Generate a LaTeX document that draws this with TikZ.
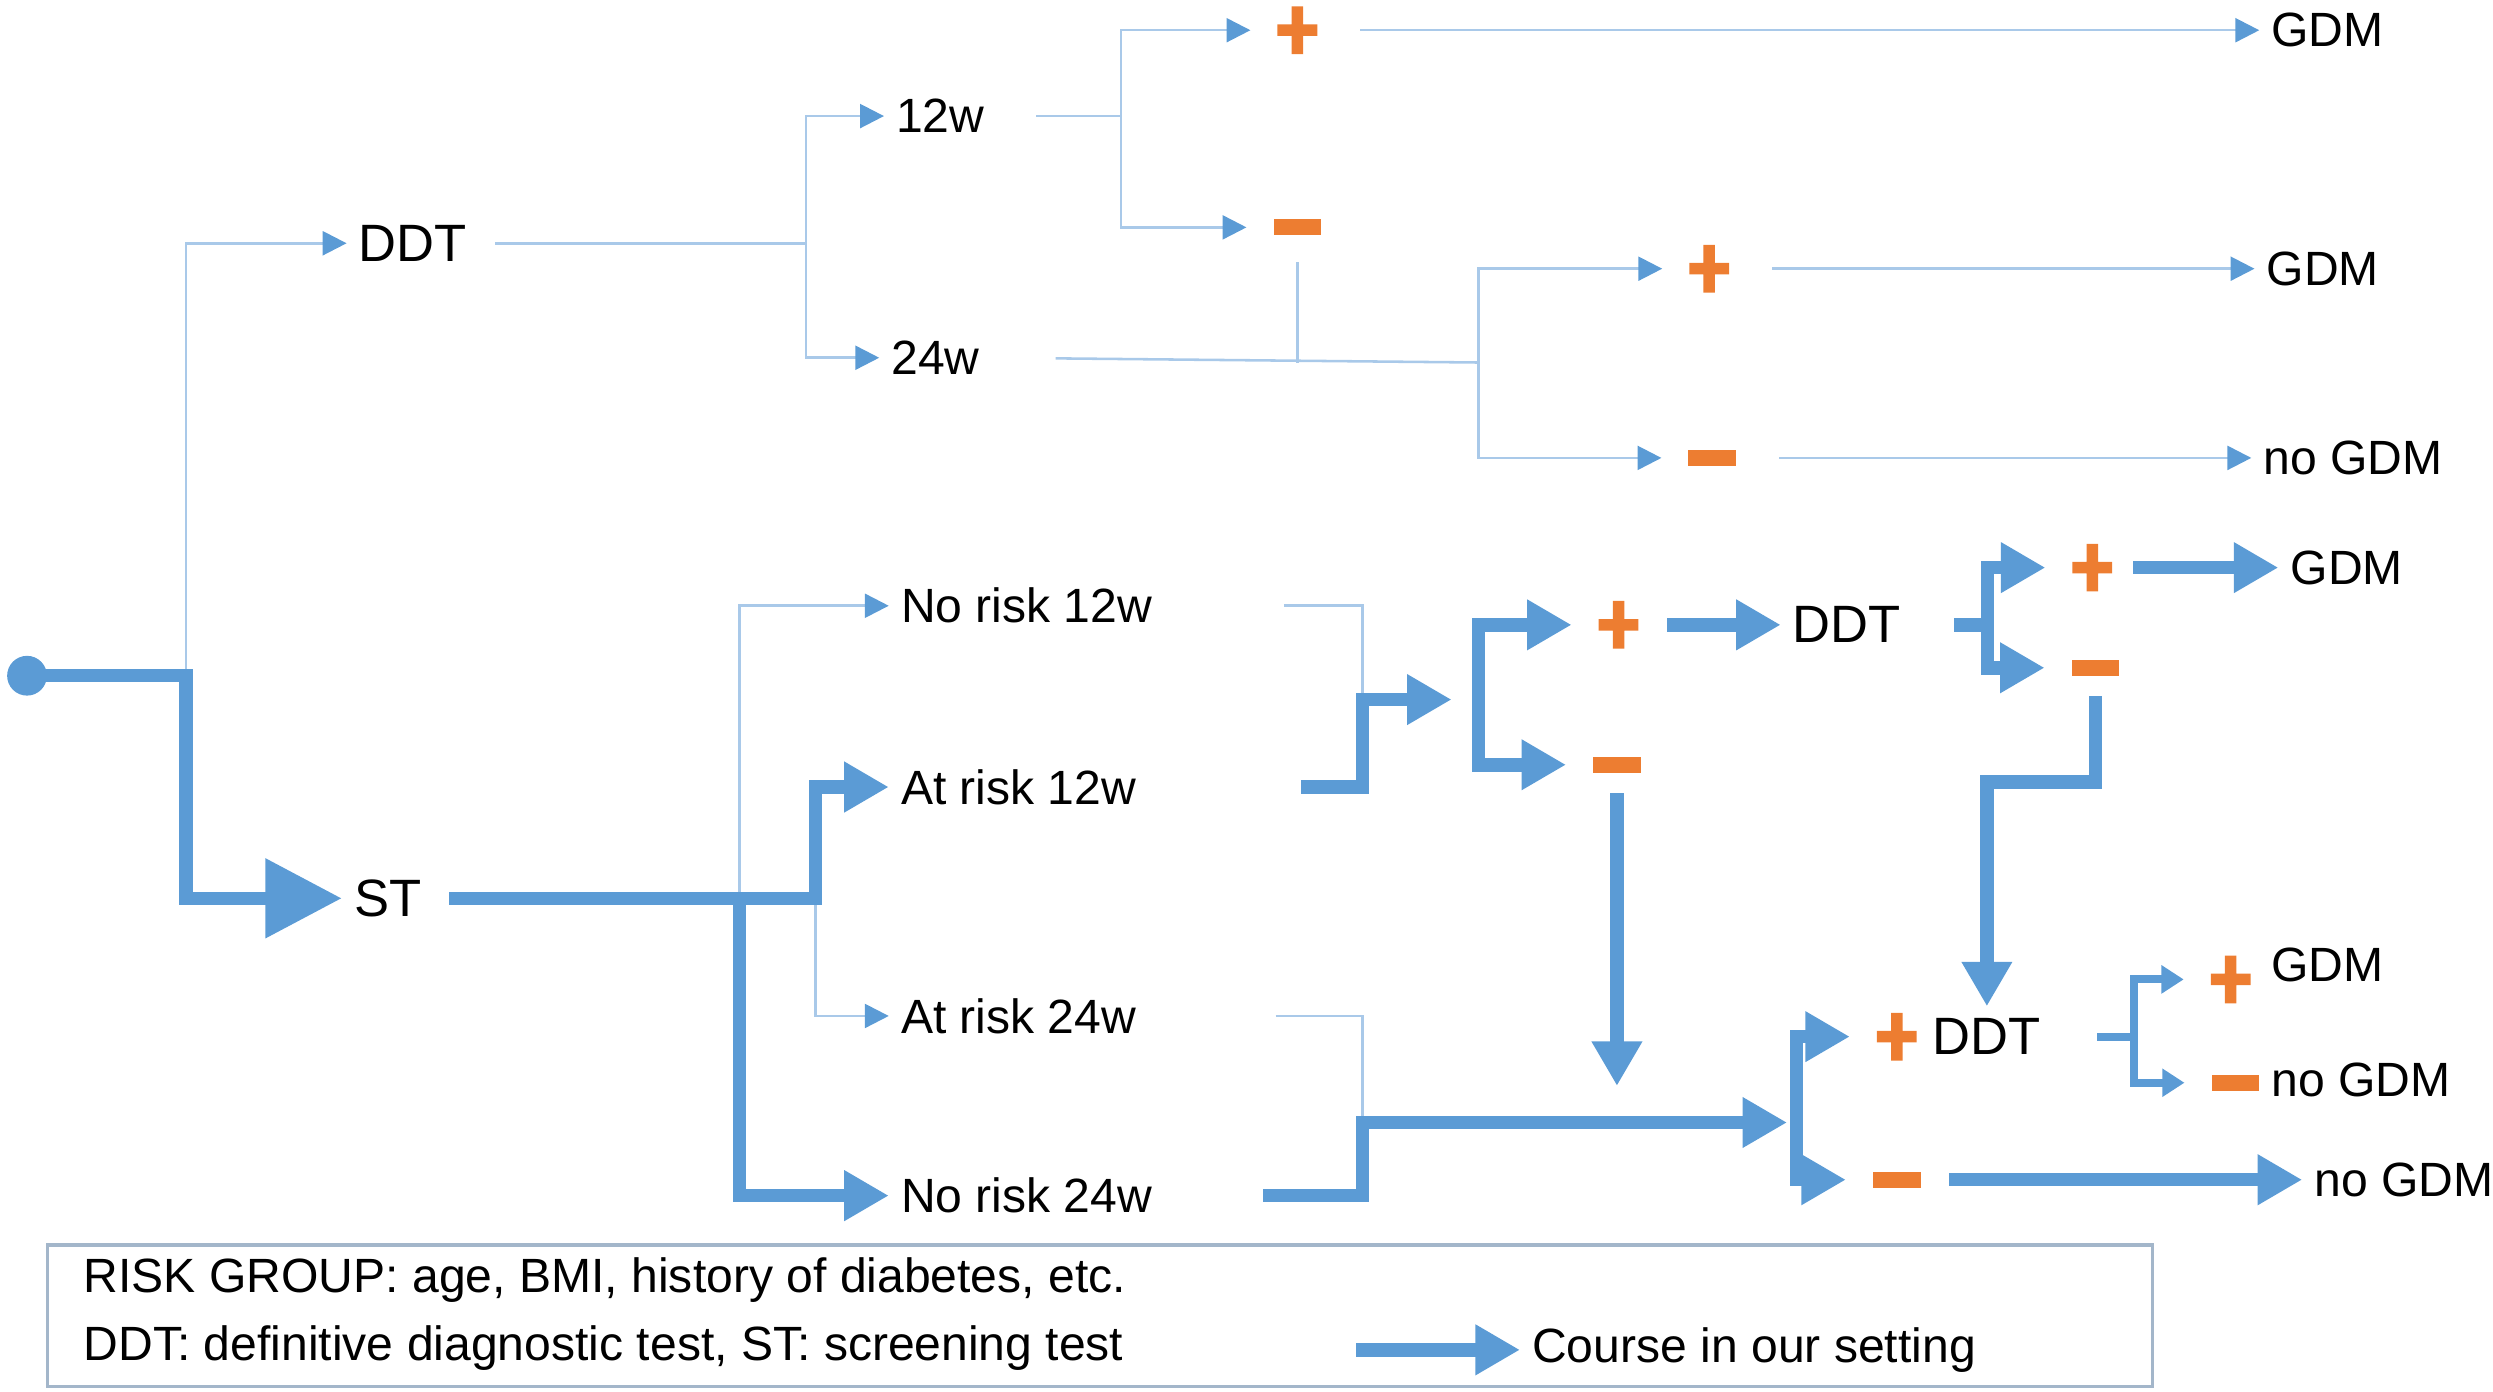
\documentclass[tikz,border=0pt]{standalone}
\usepackage{fontspec}
\setmainfont{Liberation Sans}
\usetikzlibrary{arrows.meta}
\definecolor{flowblue}{HTML}{5B9BD5}
\definecolor{paleblue}{HTML}{A9C9E9}
\definecolor{signorange}{HTML}{ED7D31}
\definecolor{boxgrey}{HTML}{A3B6CA}

\begin{document}
\begin{tikzpicture}[
    x=0.01cm, y=-0.01cm,
    lab/.style = {anchor=west, inner sep=0.07cm, font=\fontsize{8.6pt}{10pt}\selectfont},
    stor/.style = {lab, font=\fontsize{9.4pt}{11pt}\selectfont},
    plustegn/.style = {inner sep=0, outer sep=0.17cm, minimum width=0.25cm, minimum height=0.30cm,
      path picture={\fill[signorange]
        ([xshift=-0.036cm]path picture bounding box.south) rectangle ([xshift=0.036cm]path picture bounding box.north)
        ([yshift=-0.036cm]path picture bounding box.west) rectangle ([yshift=0.036cm]path picture bounding box.east);}},
    minustegn/.style = {rectangle, fill=signorange, inner sep=0, outer sep=0.17cm,
      minimum width=0.30cm, minimum height=0.10cm},
    strek/.style = {paleblue, line width=0.016cm},
    pil/.style = {strek, -{Triangle[length=0.15cm, width=0.15cm, color=flowblue]}},
    tykk/.style = {flowblue, line width=0.085cm, line cap=rect},
    tykkpil/.style = {tykk, -{Triangle[length=0.28cm, width=0.30cm]}},
    midt/.style = {flowblue, line width=0.05cm, line cap=rect},
    midtpil/.style = {midt, -{Triangle[length=0.14cm, width=0.17cm]}},
    vh/.style = {to path={|- (\tikztotarget)}}
    ]

  \useasboundingbox (0,0) rectangle (1568,875);

  \node[circle, fill=flowblue, inner sep=0, minimum size=0.25cm] (start) at (17,425) {};
  \node[stor] (ddtA) at (218,153) {DDT};
  \node[stor] (st) at (215,565) {ST};

  % DDT branch
  \node[lab] (w12) at (556,73) {12w};
  \node[lab] (w24) at (553,225) {24w};
  \node[plustegn] (pA) at (816,19) {};
  \node[minustegn] (mA) at (816,143) {};
  \node[plustegn] (pB) at (1075,169) {};
  \node[minustegn] (mB) at (1077,288) {};
  \node[lab] (gA) at (1421,19) {GDM};
  \node[lab] (gB) at (1418,169) {GDM};
  \node[lab] (ngA) at (1416,288) {no GDM};

  % ST branch
  \node[lab] (nr12) at (559,381) {No risk 12w};
  \node[lab] (ar12) at (559,495) {At risk 12w};
  \node[lab] (ar24) at (559,639) {At risk 24w};
  \node[lab] (nr24) at (559,752) {No risk 24w};
  \node[plustegn] (pC) at (1018,393) {};
  \node[minustegn] (mC) at (1017,481) {};
  \node[stor] (ddtB) at (1120,393) {DDT};
  \node[plustegn] (pD) at (1316,357) {};
  \node[minustegn] (mD) at (1318,420) {};
  \node[lab] (gC) at (1433,357) {GDM};
  \node[plustegn] (pE) at (1193,652) {};
  \node[minustegn] (mE) at (1193,742) {};
  \node[stor] (ddtC) at (1208,652) {DDT};
  \node[lab] (ngC) at (1448,742) {no GDM};
  \node[plustegn] (pF) at (1403,616) {};
  \node[minustegn] (mF) at (1406,681) {};
  \node[lab] (gD) at (1421,607) {GDM};
  \node[lab] (ngB) at (1421,679) {no GDM};

  \coordinate (c0) at (117,425);
  \coordinate (j1) at (507,153);
  \coordinate (j2) at (705,73);
  \coordinate (j3) at (930,228);
  \coordinate (j4) at (513,565);
  \coordinate (j5) at (465,565);
  \coordinate (j6) at (857,440);
  \coordinate (k1) at (913,440);
  \coordinate (j7) at (930,440);
  \coordinate (j8) at (1250,393);
  \coordinate (j9) at (1318,492);
  \coordinate (k2) at (1017,683);
  \coordinate (j10) at (857,706);
  \coordinate (k3) at (1124,706);
  \coordinate (j11) at (1130,706);
  \coordinate (j12) at (1342,652);

  % thin lines
  \path[pil] (c0) edge[vh] (ddtA.west);
  \draw[strek, shorten <=0.1cm] (ddtA.east) -- (j1);
  \path[pil] (j1) edge[vh] (w12.west) edge[vh] (w24.west);
  \draw[strek, shorten <=0.25cm] (w12.east) -- (j2);
  \path[pil] (j2) edge[vh] (pA.west) edge[vh] (mA.west);
  \draw[pil, shorten <=0.1cm] (pA.east) -- (gA.west);
  \draw[strek] (mA.south) -- (mA.south |- j3);
  \draw[strek, shorten <=0.4cm] (w24.east) -- (j3);
  \path[pil] (j3) edge[vh] (pB.west) edge[vh] (mB.west);
  \path[pil, shorten <=0.1cm]
  (pB.east) edge (gB.west)
  (mB.east) edge (ngA.west) ;

  \path[pil] (j5) edge[vh] (nr12.west);
  \path[pil] (j4) edge[vh] (ar24.west);
  \draw[strek, shorten <=0.75cm] (nr12.east) -| (j6);
  \draw[strek, shorten <=0.8cm] (ar24.east) -| (j10);

  % thick lines
  \draw[tykk, -{Triangle[length=0.48cm, width=0.48cm]}] (start) -- (c0) |- (st.west);
  \draw[tykk, shorten <=0.14cm] (st.east) -- (j4);
  \path[tykkpil] (j4) edge[vh] (ar12.west);
  \path[tykkpil] (j5) edge[vh] (nr24.west);
  \draw[tykk, shorten <=1.0cm] (ar12.east) -| (j6);
  \draw[tykkpil] (j6) -- (k1);
  \path[tykkpil] (j7) edge[vh] (pC.west) edge[vh] (mC.west);
  \draw[tykkpil, shorten <=0.05cm] (pC.east) -- (ddtB.west);
  \draw[tykk, shorten <=0.3cm] (ddtB.east) -- (j8);
  \path[tykkpil] (j8) edge[vh] (pD.west) edge[vh] (mD.west);
  \draw[tykkpil] (pD.east) -- (gC.west);
  \draw[tykkpil] (mD.south) -- (j9) -| (ddtC.north);
  \draw[tykkpil] (mC.south) -- (k2);
  \draw[tykk, shorten <=0.66cm] (nr24.east) -| (j10);
  \draw[tykkpil] (j10) -- (k3);
  \path[tykkpil] (j11) edge[vh] (pE.west) edge[vh] (mE.west);
  \draw[tykkpil, shorten <=0.05cm] (mE.east) -- (ngC.west);
  \draw[midt, shorten <=0.3cm] (ddtC.east) -- (j12);
  \path[midtpil] (j12) edge[vh] (pF.west) edge[vh] (mF.west);

  % legend
  \draw[boxgrey, line width=0.02cm] (30,783) rectangle (1354,872);
  \node[lab] (leg1) at (45,805) {RISK GROUP: age, BMI, history of diabetes, etc.};
  \node[lab] (leg2) at (45,848) {DDT: definitive diagnostic test, ST: screening test};
  \node[lab] (course) at (956,849) {Course in our setting};
  \coordinate (k4) at (857,849);
  \draw[tykkpil] (k4) -- (course.west);
\end{tikzpicture}
\end{document}
